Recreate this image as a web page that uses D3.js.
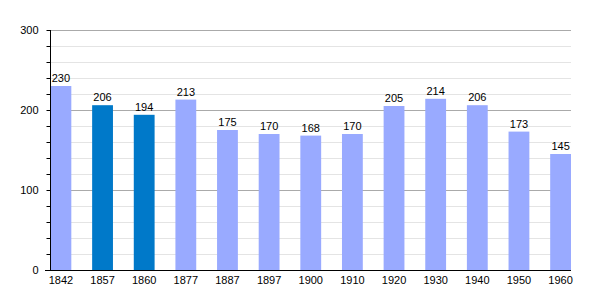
<!DOCTYPE html>
<html><head><meta charset="utf-8">
<script src="https://cdn.jsdelivr.net/npm/d3@7"></script>
<style>body{margin:0;background:#fff;}svg{display:block;font-family:"Liberation Sans",Arial,sans-serif;}</style>
</head><body>
<svg id="c" width="600" height="300"></svg>
<script>
const years = ["1842","1857","1860","1877","1887","1897","1900","1910","1920","1930","1940","1950","1960"];
const population = [230,206,194,213,175,170,168,170,205,214,206,173,145];
const highlighted = ["1857","1860"];
const yTicks = [0,100,200,300];

const svg = d3.select("#c");
const x = d3.scaleBand().domain(years).range([50.5,571]).paddingInner(0.5).paddingOuter(0);
const y = d3.scaleLinear().domain([0,300]).range([270,30]);

const minor = d3.range(0,301,20).filter(v=>v%100!==0);
svg.append("g").selectAll("line").data(minor).join("line")
  .attr("x1",50).attr("x2",571).attr("y1",d=>Math.round(y(d))+0.5).attr("y2",d=>Math.round(y(d))+0.5)
  .attr("stroke","#e4e4e4").attr("stroke-width",1);
svg.append("g").selectAll("line").data([100,200,300]).join("line")
  .attr("x1",50).attr("x2",571).attr("y1",d=>Math.round(y(d))+0.5).attr("y2",d=>Math.round(y(d))+0.5)
  .attr("stroke","#aaaaaa").attr("stroke-width",1);

svg.append("g").selectAll("rect").data(years).join("rect")
  .attr("x",d=>x(d)).attr("width",x.bandwidth())
  .attr("y",(d,i)=>y(population[i])).attr("height",(d,i)=>y(0)-y(population[i]))
  .attr("fill",d=>highlighted.includes(d)?"#0079c9":"#99aaff");

svg.append("g").selectAll("text").data(years).join("text")
  .attr("x",d=>x(d)+x.bandwidth()/2).attr("y",(d,i)=>y(population[i])-4)
  .attr("text-anchor","middle").attr("font-size",11).attr("fill","#000")
  .text((d,i)=>population[i]);

// y axis
const ya = svg.append("g").attr("transform","translate(50.5,0)")
  .call(d3.axisLeft(y).tickValues(d3.range(0,301,20)).tickSize(4).tickFormat(d=>yTicks.includes(d)?d:""));
ya.select(".domain").attr("d","M0,30V270").attr("stroke","#000");
ya.selectAll(".tick line").attr("stroke","#000");
ya.selectAll(".tick text").attr("x",-12).attr("font-size",11).attr("fill","#000").attr("font-family","Liberation Sans, Arial, sans-serif");

// x axis
const xa = svg.append("g").attr("transform","translate(0,270.5)")
  .call(d3.axisBottom(x).tickSize(0).tickPadding(6));
xa.select(".domain").attr("d","M45,0H571").attr("stroke","#000");
xa.selectAll(".tick text").attr("font-size",11).attr("fill","#000").attr("font-family","Liberation Sans, Arial, sans-serif");
</script>
</body></html>
